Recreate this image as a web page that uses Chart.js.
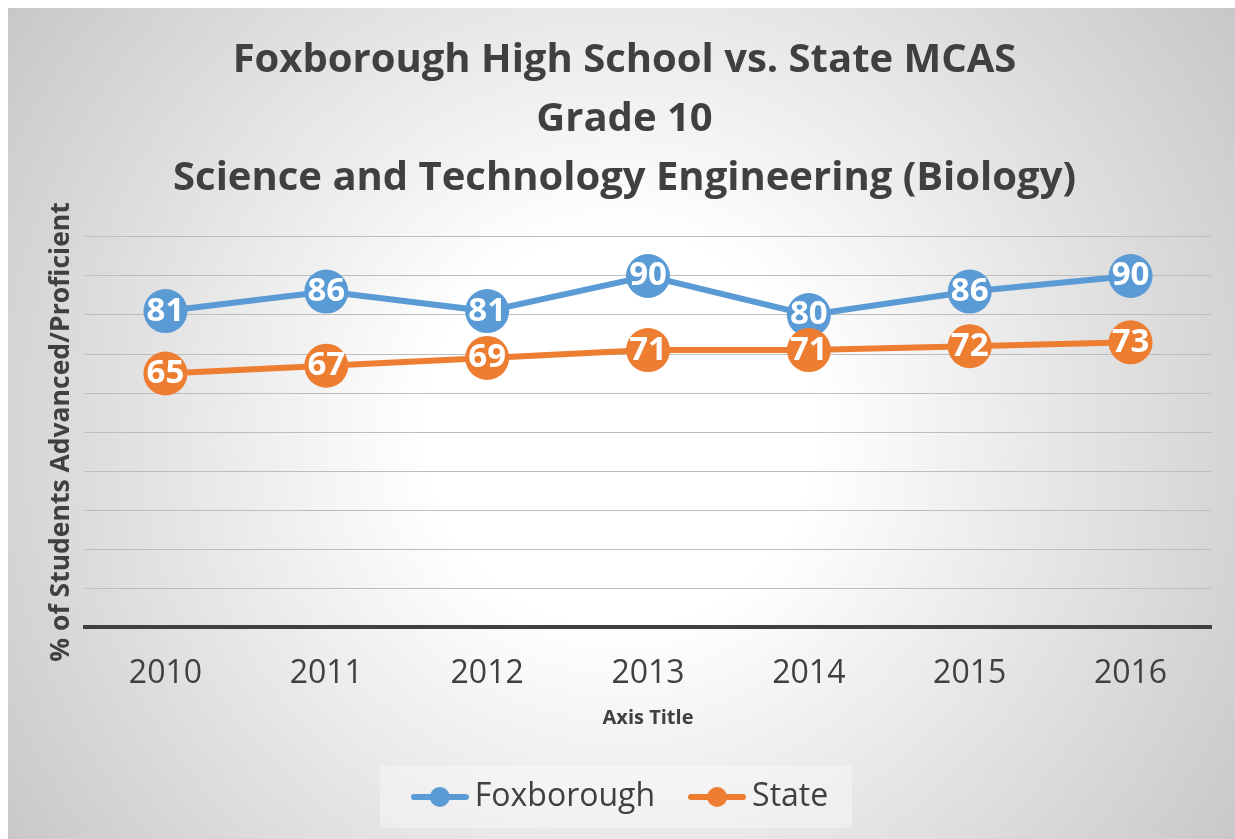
<!DOCTYPE html>
<html>
<head>
<meta charset="utf-8">
<script src="https://cdn.jsdelivr.net/npm/chart.js@4/dist/chart.umd.min.js"></script>
<style>
  html, body { margin: 0; padding: 0; background: #ffffff; }
  canvas { display: block; }
</style>
</head>
<body>
<canvas id="mcas-chart" width="1235" height="839"></canvas>
<script>
const years = ["2010", "2011", "2012", "2013", "2014", "2015", "2016"];
const foxborough = [81, 86, 81, 90, 80, 86, 90];
const state = [65, 67, 69, 71, 71, 72, 73];
const titleLines = [
    "Foxborough High School vs. State MCAS",
    "Grade 10",
    "Science and Technology Engineering (Biology)"
];

const blue = "#5b9bd5";
const orange = "#ed7d31";
const textDark = "#404040";

// legend marker: short line with a dot in the middle
function markerImage(color) {
    const c = document.createElement("canvas");
    c.width = 58;
    c.height = 24;
    const g = c.getContext("2d");
    g.strokeStyle = color;
    g.lineWidth = 6;
    g.lineCap = "round";
    g.beginPath();
    g.moveTo(3, 12);
    g.lineTo(55, 12);
    g.stroke();
    g.fillStyle = color;
    g.beginPath();
    g.arc(29, 12, 10, 0, Math.PI * 2);
    g.fill();
    return c;
}

const backgroundPlugin = {
    id: "background",
    beforeDraw(chart) {
        const ctx = chart.ctx;
        const w = chart.width, h = chart.height;
        ctx.save();
        ctx.fillStyle = "#ffffff";
        ctx.fillRect(0, 0, w, h);
        const grad = ctx.createRadialGradient(620, 430, 0, 620, 430, 780);
        grad.addColorStop(0, "#ffffff");
        grad.addColorStop(0.25, "#ffffff");
        grad.addColorStop(1, "#c4c4c4");
        ctx.fillStyle = grad;
        ctx.fillRect(8, 8, w - 8, h - 8);

        // lighter box behind the legend
        const boxes = chart.legend.legendHitBoxes;
        if (boxes && boxes.length) {
            const first = boxes[0], last = boxes[boxes.length - 1];
            const left = first.left - 41;
            const right = last.left + last.width + 24;
            ctx.fillStyle = "rgba(255,255,255,0.35)";
            ctx.fillRect(left, first.top - 15, right - left, 62);
        }
        ctx.restore();
    }
};

const valueLabels = {
    id: "valueLabels",
    afterDatasetDraw(chart, args) {
        const ctx = chart.ctx;
        const data = chart.data.datasets[args.index].data;
        ctx.save();
        ctx.font = "bold 33px 'Open Sans'";
        ctx.fillStyle = "#ffffff";
        ctx.textAlign = "center";
        ctx.textBaseline = "middle";
        args.meta.data.forEach((pt, i) => {
            ctx.fillText(String(data[i]), pt.x, pt.y);
        });
        ctx.restore();
    }
};

const ctx = document.getElementById("mcas-chart").getContext("2d");

new Chart(ctx, {
    type: "line",
    data: {
        labels: years,
        datasets: [
            {
                label: "Foxborough",
                data: foxborough,
                borderColor: blue,
                backgroundColor: blue,
                pointBackgroundColor: blue,
                borderWidth: 6,
                pointRadius: 22,
                pointHoverRadius: 22,
                pointBorderWidth: 0,
                tension: 0,
                order: 1
            },
            {
                label: "State",
                data: state,
                borderColor: orange,
                backgroundColor: orange,
                pointBackgroundColor: orange,
                borderWidth: 6,
                pointRadius: 22,
                pointHoverRadius: 22,
                pointBorderWidth: 0,
                tension: 0,
                order: 0
            }
        ]
    },
    options: {
        responsive: false,
        animation: false,
        devicePixelRatio: 1,
        clip: false,
        layout: {
            autoPadding: false,
            padding: { top: 0, left: 38, right: 24, bottom: 16 }
        },
        plugins: {
            tooltip: { enabled: false },
            title: {
                display: true,
                text: titleLines,
                color: textDark,
                font: { family: "'Open Sans'", size: 40, weight: "bold", lineHeight: 1.47 },
                padding: { top: 31.6, bottom: 29 }
            },
            legend: {
                position: "bottom",
                labels: {
                    usePointStyle: true,
                    pointStyleWidth: 38,
                    padding: 43,
                    color: textDark,
                    font: { family: "'Open Sans'", size: 32 },
                    generateLabels(chart) {
                        return chart.data.datasets.map((ds, i) => ({
                            text: ds.label,
                            datasetIndex: i,
                            pointStyle: markerImage(ds.borderColor),
                            fillStyle: ds.borderColor,
                            strokeStyle: ds.borderColor,
                            lineWidth: 0,
                            fontColor: textDark,
                            hidden: false
                        }));
                    }
                }
            }
        },
        scales: {
            x: {
                offset: true,
                grid: { display: false, drawTicks: false },
                border: { display: true, color: textDark, width: 4 },
                ticks: {
                    color: textDark,
                    padding: 28,
                    font: { family: "'Open Sans'", size: 32 }
                },
                title: {
                    display: true,
                    text: "Axis Title",
                    color: textDark,
                    font: { family: "'Open Sans'", size: 20, weight: "bold", lineHeight: 1.2 },
                    padding: { top: 0, bottom: 7.5 }
                },
                afterFit(scale) { scale.height = 111; }
            },
            y: {
                min: 0,
                max: 100,
                ticks: { display: false, stepSize: 10 },
                grid: { color: "#bdbdbd", lineWidth: 1, drawTicks: false },
                border: { display: false },
                title: {
                    display: true,
                    text: "% of Students Advanced/Proficient",
                    color: textDark,
                    font: { family: "'Open Sans'", size: 26.5, weight: "bold", lineHeight: 1.2 },
                    padding: { top: 8, bottom: 0 }
                },
                afterFit(scale) { scale.width = 47; }
            }
        }
    },
    plugins: [backgroundPlugin, valueLabels]
});
</script>
</body>
</html>
